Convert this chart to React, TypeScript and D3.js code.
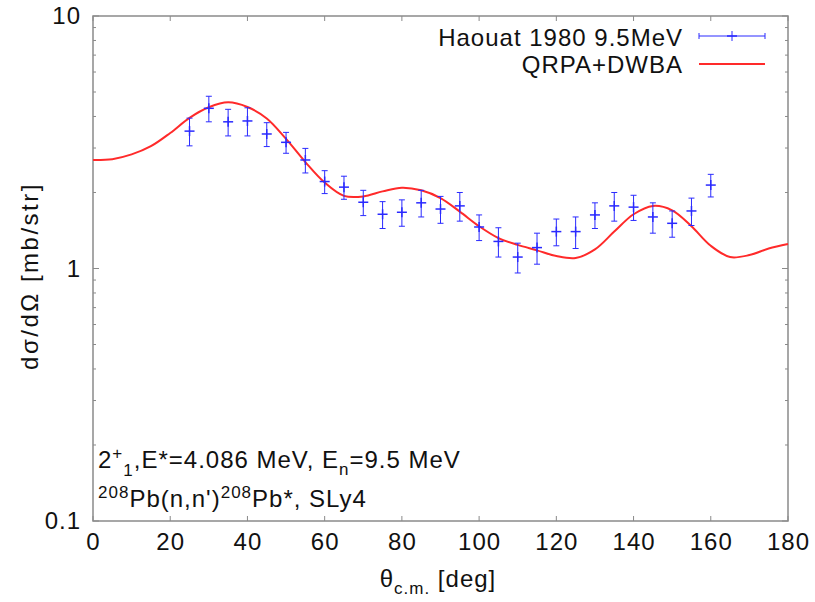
import React from "react";
import * as d3 from "d3";

const expAngle = [25, 30, 35, 40, 45, 50, 55, 60, 65, 70, 75, 80, 85, 90, 95, 100, 105, 110, 115, 120, 125, 130, 135, 140, 145, 150, 155, 160];
const expValue = [3.5, 4.31, 3.81, 3.84, 3.41, 3.16, 2.69, 2.21, 2.1, 1.83, 1.64, 1.67, 1.82, 1.72, 1.77, 1.46, 1.28, 1.11, 1.21, 1.4, 1.4, 1.63, 1.77, 1.75, 1.6, 1.51, 1.69, 2.14];
const expError = [0.44, 0.5, 0.46, 0.49, 0.37, 0.3, 0.3, 0.23, 0.22, 0.21, 0.2, 0.2, 0.22, 0.21, 0.23, 0.17, 0.17, 0.15, 0.17, 0.17, 0.2, 0.19, 0.23, 0.2, 0.22, 0.18, 0.21, 0.22];

const theoryAngle = [0, 5, 10, 15, 20, 25, 30, 35, 40, 45, 50, 55, 60, 65, 70, 75, 80, 85, 90, 95, 100, 105, 110, 115, 120, 125, 130, 135, 140, 145, 150, 155, 160, 165, 170, 175, 180];
const theoryValue = [2.69, 2.71, 2.83, 3.05, 3.44, 3.95, 4.35, 4.55, 4.36, 3.93, 3.26, 2.64, 2.19, 1.94, 1.93, 2.02, 2.09, 2.04, 1.9, 1.68, 1.47, 1.32, 1.24, 1.18, 1.12, 1.1, 1.19, 1.4, 1.64, 1.77, 1.7, 1.47, 1.23, 1.11, 1.13, 1.2, 1.25];

const xTicks = [0, 20, 40, 60, 80, 100, 120, 140, 160, 180];
const yTicks = [0.1, 1, 10];
const yTickLabels = ["0.1", "1", "10"];

const W = 815, H = 602;
const L = 93, R = 788, T = 16, B = 521;
const FONT = "'Liberation Sans', Arial, Helvetica, sans-serif";

export default function App() {
  const x = d3.scaleLinear().domain([0, 180]).range([L, R]);
  const y = d3.scaleLog().domain([0.1, 10]).range([B, T]);
  const line = d3
    .line<number>()
    .x((_, i) => x(theoryAngle[i]))
    .y((d) => y(d))
    .curve(d3.curveCatmullRom.alpha(0.5));

  const minor: number[] = [];
  for (const dec of [0.1, 1]) for (let k = 2; k <= 9; k++) minor.push(dec * k);

  const blue = "#2a2aff";
  const red = "#ff2a2a";
  const frame = "#8a8a8a";
  const ls = 1;

  return (
    <svg width={W} height={H} style={{ position: "absolute", left: 0, top: 0, background: "#fff" }} fontFamily={FONT}>
      <rect x={0} y={0} width={W} height={H} fill="#fff" />
      {/* ticks */}
      {xTicks.map((t) => (
        <g key={"xt" + t}>
          <line x1={x(t)} x2={x(t)} y1={B} y2={B - 5} stroke={frame} strokeWidth={1} />
          <line x1={x(t)} x2={x(t)} y1={T} y2={T + 5} stroke={frame} strokeWidth={1} />
          <text x={x(t) + ls / 2} y={550} fontSize={24} letterSpacing={ls} textAnchor="middle" fill="#111">{t}</text>
        </g>
      ))}
      {yTicks.map((t, i) => (
        <g key={"yt" + t}>
          <line x1={L} x2={L + 6} y1={y(t)} y2={y(t)} stroke={frame} strokeWidth={1} />
          <line x1={R} x2={R - 6} y1={y(t)} y2={y(t)} stroke={frame} strokeWidth={1} />
          <text x={80 + ls} y={y(t) + 8} fontSize={24} letterSpacing={ls} textAnchor="end" fill="#111">{yTickLabels[i]}</text>
        </g>
      ))}
      {minor.map((t) => (
        <g key={"ym" + t}>
          <line x1={L} x2={L + 3} y1={y(t)} y2={y(t)} stroke={frame} strokeWidth={1} />
          <line x1={R} x2={R - 3} y1={y(t)} y2={y(t)} stroke={frame} strokeWidth={1} />
        </g>
      ))}
      {/* frame */}
      <rect x={L} y={T} width={R - L} height={B - T} fill="none" stroke={frame} strokeWidth={1.5} />

      {/* theory */}
      <path d={line(theoryValue) || ""} fill="none" stroke={red} strokeWidth={2} />

      {/* experiment */}
      {expAngle.map((a, i) => {
        const cx = x(a);
        const cy = y(expValue[i]);
        const y1 = y(expValue[i] + expError[i]);
        const y2 = y(expValue[i] - expError[i]);
        return (
          <g key={"e" + a} stroke={blue} strokeWidth={1}>
            <line x1={cx} x2={cx} y1={y1} y2={y2} />
            <line x1={cx - 3} x2={cx + 3} y1={y1} y2={y1} />
            <line x1={cx - 3} x2={cx + 3} y1={y2} y2={y2} />
            <line x1={cx - 5} x2={cx + 5} y1={cy} y2={cy} strokeWidth={1.5} />
            <line x1={cx} x2={cx} y1={cy - 5} y2={cy + 5} strokeWidth={1.5} />
          </g>
        );
      })}

      {/* legend */}
      <text x={682 + ls} y={46} fontSize={24} letterSpacing={ls} textAnchor="end" fill="#111">Haouat 1980 9.5MeV</text>
      <g stroke={blue} strokeWidth={1}>
        <line x1={699} x2={765} y1={36} y2={36} />
        <line x1={699} x2={699} y1={33} y2={39} />
        <line x1={765} x2={765} y1={33} y2={39} />
        <line x1={732} x2={732} y1={31} y2={41} />
        <line x1={727} x2={737} y1={36} y2={36} strokeWidth={1.5} />
      </g>
      <text x={682 + ls} y={73} fontSize={24} letterSpacing={ls} textAnchor="end" fill="#111">QRPA+DWBA</text>
      <line x1={699} x2={765} y1={64} y2={64} stroke={red} strokeWidth={2} />

      {/* annotations */}
      <text x={98} y={468} fontSize={24} letterSpacing={ls} fill="#111">
        2<tspan dy={-9} fontSize={17}>+</tspan>
        <tspan dy={17} fontSize={17}>1</tspan>
        <tspan dy={-8}>,E*=4.086 MeV, E</tspan>
        <tspan dy={7} fontSize={17}>n</tspan>
        <tspan dy={-7}>=9.5 MeV</tspan>
      </text>
      <text x={98} y={507} fontSize={24} letterSpacing={ls} fill="#111">
        <tspan dy={-9} fontSize={17}>208</tspan>
        <tspan dy={9}>Pb(n,n')</tspan>
        <tspan dy={-9} fontSize={17}>208</tspan>
        <tspan dy={9}>Pb*, SLy4</tspan>
      </text>

      {/* axis titles */}
      <text x={438} y={587} fontSize={24} letterSpacing={ls} textAnchor="middle" fill="#111">
        θ<tspan dy={7} fontSize={17}>c.m.</tspan>
        <tspan dy={-7}> [deg]</tspan>
      </text>
      <text transform={`translate(38,276) rotate(-90)`} fontSize={24} letterSpacing={2.5} textAnchor="middle" fill="#111">
        dσ/dΩ [mb/str]
      </text>
    </svg>
  );
}
